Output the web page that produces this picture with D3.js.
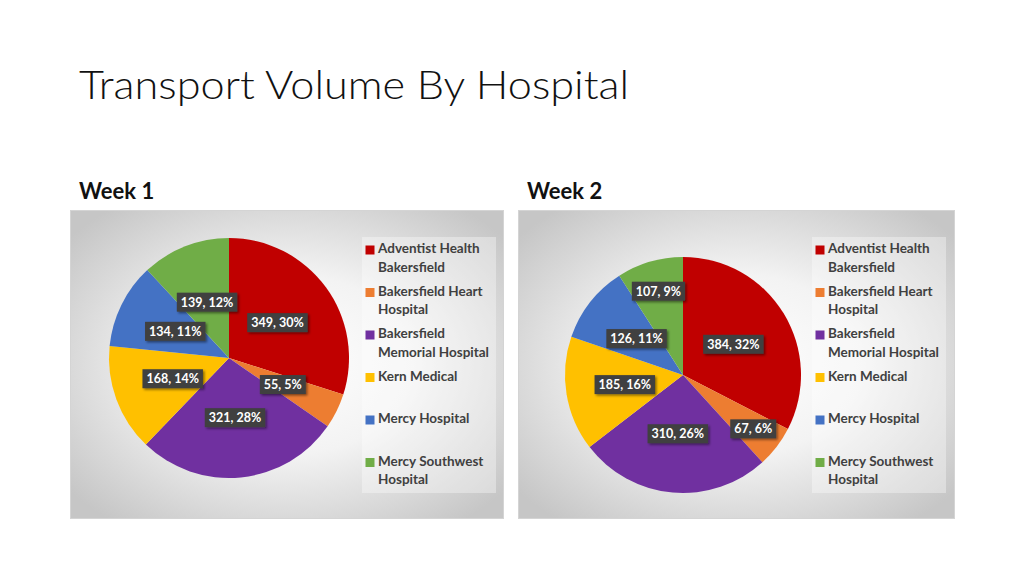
<!DOCTYPE html>
<html><head><meta charset="utf-8">
<script src="https://cdn.jsdelivr.net/npm/d3@7"></script>
<style>body{margin:0;background:#fff;} svg{display:block}</style></head>
<body>
<svg id="c" width="1024" height="576"></svg>
<script>
const title = "Transport Volume By Hospital";
const weekLabels = ["Week 1", "Week 2"];
const hospitals = [["Adventist Health","Bakersfield"],["Bakersfield Heart","Hospital"],["Bakersfield","Memorial Hospital"],["Kern Medical"],["Mercy Hospital"],["Mercy Southwest","Hospital"]];
const colors = ["#C00000","#ED7D31","#7030A0","#FFC000","#4472C4","#70AD47"];
const week1Values = [349, 55, 321, 168, 134, 139];
const week1Pct = [30, 5, 28, 14, 11, 12];
const week2Values = [384, 67, 310, 185, 126, 107];
const week2Pct = [32, 6, 26, 16, 11, 9];

const svg = d3.select("#c");
const defs = svg.append("defs");
const rg = defs.append("radialGradient").attr("id","bg").attr("cx","50%").attr("cy","50%").attr("r","65%");
rg.append("stop").attr("offset","0%").attr("stop-color","#ffffff");
rg.append("stop").attr("offset","45%").attr("stop-color","#f3f3f3");
rg.append("stop").attr("offset","100%").attr("stop-color","#c6c6c6");
const f = defs.append("filter").attr("id","sh").attr("x","-20%").attr("y","-30%").attr("width","150%").attr("height","170%");
f.append("feDropShadow").attr("dx",1.6).attr("dy",1.6).attr("stdDeviation",1).attr("flood-color","#000").attr("flood-opacity",0.45);

svg.append("text").attr("x",79).attr("y",99).attr("font-family","Lato").attr("font-weight",300)
  .attr("font-size",40).attr("fill","#111").attr("textLength",550).attr("lengthAdjust","spacingAndGlyphs").text(title);

// layout: label radius as a fraction of the pie radius (Excel best-fit placement)
const panels = [
  {x:70, y:210, w:433, h:308, cx:229, cy:358, r:120, lx:362, values:week1Values, pct:week1Pct, wx:79,
   labelR:[0.5,0.5,0.5,0.5,0.5,0.5]},
  {x:518, y:210, w:436, h:308, cx:683, cy:375, r:118, lx:812, values:week2Values, pct:week2Pct, wx:527,
   labelR:[0.5,0.75,0.5,0.5,0.5,0.74]}
];

panels.forEach((p, pi) => {
  svg.append("text").attr("x",p.wx).attr("y",199).attr("font-family","Lato").attr("font-weight",700)
    .attr("font-size",22).attr("fill","#111").text(weekLabels[pi]);
  svg.append("rect").attr("x",p.x+0.5).attr("y",p.y+0.5).attr("width",p.w).attr("height",p.h)
    .attr("fill","url(#bg)").attr("stroke","#d4d4d4");
  svg.append("rect").attr("x",p.lx).attr("y",237).attr("width",134).attr("height",256)
    .attr("fill","#ffffff").attr("opacity",0.35);

  const data = p.values.map((v,i)=>({v, pct:p.pct[i], i}));
  const pie = d3.pie().value(d=>d.v).sort(null).startAngle(0).endAngle(2*Math.PI);
  const arc = d3.arc().innerRadius(0).outerRadius(p.r);
  const g = svg.append("g").attr("transform",`translate(${p.cx},${p.cy})`);
  const arcs = pie(data);
  g.selectAll("path").data(arcs).join("path").attr("d",arc).attr("fill",d=>colors[d.data.i]);

  const lab = g.selectAll("g.lab").data(arcs).join("g").attr("class","lab")
    .attr("transform",d=>{
      const rr = p.r * p.labelR[d.data.i];
      return `translate(${d3.arc().innerRadius(rr).outerRadius(rr).centroid(d)})`;
    });
  lab.each(function(d){
    const s = d3.select(this);
    const t = s.append("text").attr("text-anchor","middle").attr("dy","0.35em")
      .attr("font-family","Lato").attr("font-weight",700).attr("font-size",12.5).attr("fill","#fff")
      .text(`${d.data.v}, ${d.data.pct}%`);
    const w = t.node().getComputedTextLength() + 8;
    s.insert("rect","text").attr("x",-w/2).attr("y",-9.5).attr("width",w).attr("height",19)
      .attr("fill","#404040").attr("filter","url(#sh)");
  });

  const leg = svg.append("g");
  hospitals.forEach((lines, i) => {
    const by = 253.3 + i*42.5;
    leg.append("rect").attr("x",p.lx+3.5).attr("y",by-7.8).attr("width",9).attr("height",9).attr("fill",colors[i]);
    const t = leg.append("text").attr("x",p.lx+16).attr("y",by).attr("font-family","Lato").attr("font-weight",700)
      .attr("font-size",13.5).attr("fill","#404040");
    lines.forEach((ln, k) => t.append("tspan").attr("x",p.lx+16).attr("y",by + k*18.3).text(ln));
  });
});
</script>
</body></html>
